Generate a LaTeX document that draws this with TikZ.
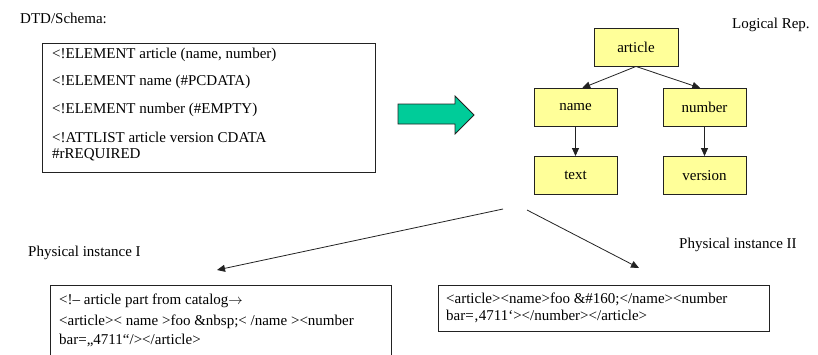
\documentclass[tikz,border=0pt]{standalone}
\usepackage{fontspec}
\setmainfont{Liberation Serif}
\newfontfamily\diagramfont{Liberation Serif}
\usetikzlibrary{arrows.meta,calc}
\definecolor{boxyellow}{HTML}{FFFF99}
\definecolor{arrowgreen}{HTML}{00CC99}
\definecolor{edgegray}{HTML}{222222}

\begin{document}
\begin{tikzpicture}[x=1pt,y=-1pt,
  font=\diagramfont\fontsize{15}{17}\selectfont,
  treebox/.style={draw=edgegray, fill=boxyellow, line width=0.9pt,
    minimum width=83pt, minimum height=38pt, inner sep=0pt},
  codebox/.style={draw=edgegray, line width=0.9pt, inner sep=0pt},
  codeline/.style={anchor=west, inner sep=0pt},
  caption/.style={anchor=west, inner sep=0pt},
  link/.style={draw=edgegray, line width=0.8pt,
    -{Triangle[length=8pt,width=7pt]}}]

\useasboundingbox (0,0) rectangle (818,354);
\clip (0,0) rectangle (818,354);

% ---- DTD / schema ----
\node[caption] (dtdlabel) at (20,18) {DTD/Schema:};
\node[codebox, minimum width=333pt, minimum height=129pt] (dtd) at (208.5,107.5) {};
\node[codeline] (dtd1) at (52,55)  {<!ELEMENT article (name, number)};
\node[codeline] (dtd2) at (52,82)  {<!ELEMENT name (\#PCDATA)};
\node[codeline] (dtd3) at (52,110) {<!ELEMENT number (\#EMPTY)};
\node[codeline] (dtd4) at (52,137) {<!ATTLIST article version CDATA};
\node[codeline] (dtd5) at (52,155) {\#rREQUIRED};

% ---- block arrow ----
\filldraw[draw=edgegray, fill=arrowgreen, line width=0.8pt]
  (398,104) -- (455,104) -- (455,96) -- (474,115) -- (455,134)
  -- (455,124) -- (398,124) -- cycle;

% ---- logical representation ----
\node[caption] (loglabel) at (732,25) {Logical Rep.};
\node[treebox, minimum width=84pt] (article) at (636,47) {article};
\node[treebox] (name)    at (575.5,107.5) {name};
\node[treebox] (number)  at (704.5,107.5) {number};
\node[treebox] (text)    at (575.5,175.5) {text};
\node[treebox] (version) at (704.5,175.5) {version};

\draw[link] (article.south) -- ($(name.north west)!0.58!(name.north east)$);
\draw[link] (article.south) -- ($(number.north west)!0.45!(number.north east)$);
\draw[link] (name) -- (text);
\draw[link] (number) -- (version);

% ---- physical instances ----
\coordinate (splitL) at (503,209);
\coordinate (splitR) at (527,210);
\coordinate (instL) at (217,270);
\coordinate (instR) at (639,268);
\draw[link] (splitL) -- (instL);
\draw[link] (splitR) -- (instR);

\node[caption] (physIlabel)  at (28,253)  {Physical instance I};
\node[caption] (physIIlabel) at (679,245) {Physical instance II};

\node[codebox, minimum width=341pt, minimum height=90pt] (physI) at (220.5,330) {};
\node[codeline] (physI1) at (59,301) {<!– article part from catalog$\rightarrow$};
\node[codeline] (physI2) at (59,322) {<article>< name >foo \&nbsp;< /name ><number};
\node[codeline] (physI3) at (59,340) {bar=„4711“/></article>};

\node[codebox, minimum width=331pt, minimum height=46pt] (physII) at (603.5,308) {};
\node[codeline] (physII1) at (446,299) {<article><name>foo \&\#160;</name><number};
\node[codeline] (physII2) at (446,316) {bar=‚4711‘></number></article>};
\end{tikzpicture}
\end{document}
